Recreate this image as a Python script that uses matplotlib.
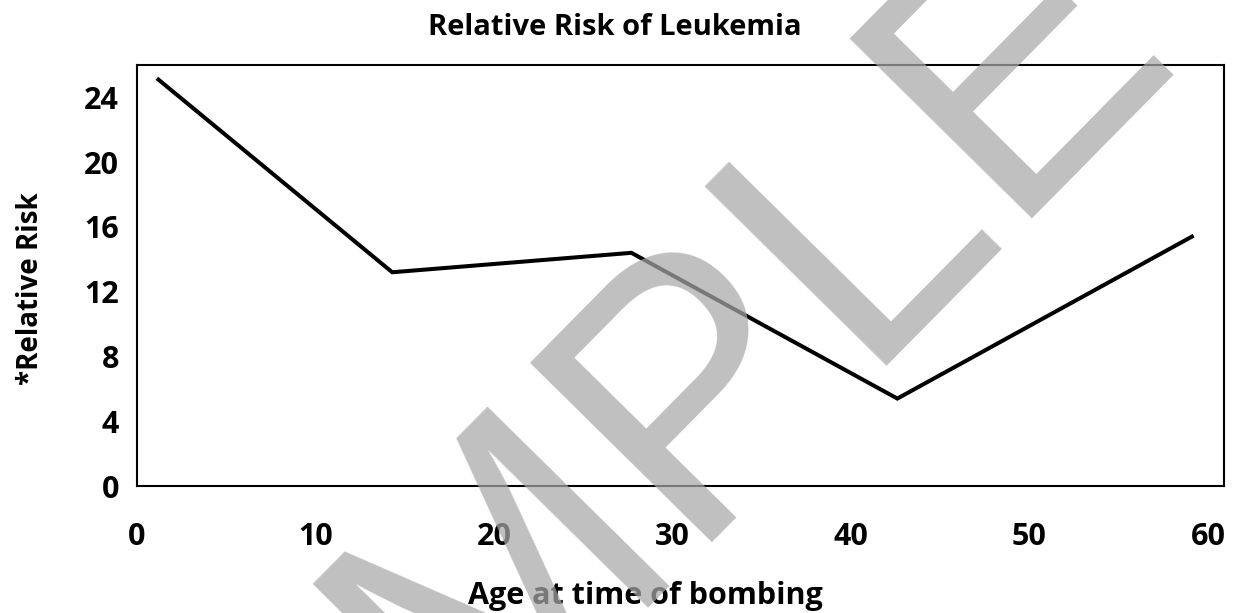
import numpy as np
import matplotlib
matplotlib.use('Agg')
import matplotlib.pyplot as plt

# データ
ages = [1.2, 14.3, 27.7, 42.6, 59.1]
risk = [25.1, 13.2, 14.4, 5.4, 15.4]
x_ticks = [0, 10, 20, 30, 40, 50, 60]
y_ticks = [0, 4, 8, 12, 16, 20, 24]

W, H = 1236, 613
plt.rcParams['font.family'] = ['Open Sans', 'DejaVu Sans']
plt.rcParams['font.weight'] = 'bold'

fig = plt.figure(figsize=(W / 100, H / 100), dpi=100)
ax = fig.add_axes([137 / W, 1 - 486 / H, (1224 - 137) / W, (486 - 65) / H])

ax.plot(ages, risk, color='black', lw=2.9, solid_joinstyle='miter')

# 右端は60より少し先まで
ax.set_xlim(0, 60.9)
ax.set_ylim(0, 26)
ax.set_xticks(x_ticks)
ax.set_yticks(y_ticks)
ax.tick_params(axis='x', length=0, pad=26, labelsize=22)
ax.tick_params(axis='y', length=0, pad=13, labelsize=22)
for s in ax.spines.values():
    s.set_linewidth(1.5)

fig.text(615 / W, 1 - 35 / H, 'Relative Risk of Leukemia', ha='center', va='baseline',
         fontsize=21, fontweight='bold')
fig.text(645 / W, 1 - 604 / H, 'Age at time of bombing', ha='center', va='baseline',
         fontsize=22, fontweight='bold')
fig.text(38 / W, 1 - 289 / H, '*Relative Risk', ha='center', va='baseline',
         rotation=90, rotation_mode='anchor', fontsize=20, fontweight='bold')

# 透かし
fig.text(650 / W, 1 - 589 / H, 'SAMPLE', ha='center', va='baseline',
         rotation=45.4, rotation_mode='anchor', fontsize=268,
         family='Liberation Sans', fontweight='normal',
         color=(0.66, 0.66, 0.66), alpha=0.73)

fig.savefig('out.png', dpi=100)
